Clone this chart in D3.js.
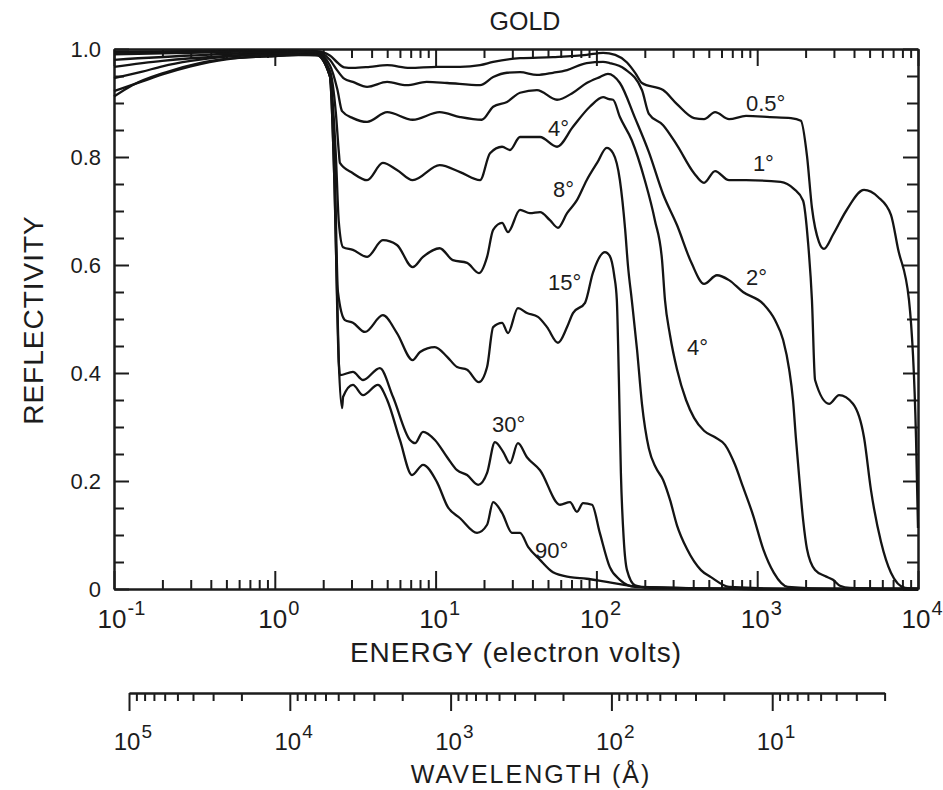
<!DOCTYPE html>
<html>
<head>
<meta charset="utf-8">
<script src="https://cdn.jsdelivr.net/npm/d3@7"></script>
<style>
  body { margin: 0; background: #fff; }
  text { font-family: "Liberation Sans", Arial, sans-serif; fill: #1c1c1c; }
  .axis path, .axis line { stroke: #1c1c1c; stroke-width: 2; }
  .curve { fill: none; stroke: #141414; stroke-width: 2.3; stroke-linejoin: round; }
</style>
</head>
<body>
<div id="main"></div>
<script>
// reflectivity of gold vs photon energy, one array per grazing angle
// each point is [energy (eV), reflectivity]
var angles = ["0.5°", "1°", "2°", "4°", "8°", "15°", "30°", "90°"];

var r05 = [[0.1, 0.995], [0.3, 0.996], [1, 0.997], [1.8, 0.996], [2.2, 0.988], [2.45, 0.975], [2.7, 0.966],
  [3.06, 0.965], [3.9, 0.967], [5.0, 0.970], [6.9, 0.965], [10.2, 0.967], [14.2, 0.967], [18.9, 0.970],
  [22.8, 0.976], [33.5, 0.983], [53.7, 0.985], [87, 0.989], [110, 0.993], [131, 0.989], [155, 0.975],
  [175, 0.955], [192, 0.937], [260, 0.924], [317, 0.898], [405, 0.872], [467, 0.870], [547, 0.883],
  [668, 0.870], [852, 0.876], [1200, 0.874], [1620, 0.872], [1870, 0.867], [2040, 0.802], [2190, 0.706],
  [2420, 0.643], [2600, 0.630], [2960, 0.656], [3570, 0.700], [4620, 0.739], [5640, 0.726], [6790, 0.693],
  [7510, 0.630], [8790, 0.535], [9720, 0.280], [10000, 0.113]];

var r1 = [[0.1, 0.993], [0.3, 0.995], [1, 0.997], [1.8, 0.995], [2.2, 0.98], [2.45, 0.96], [2.7, 0.945],
  [3.06, 0.939], [3.75, 0.930], [5.0, 0.939], [6.6, 0.933], [8.8, 0.939], [11.8, 0.937], [18.9, 0.933],
  [22.8, 0.948], [27.8, 0.956], [33.5, 0.957], [42.7, 0.952], [53.7, 0.956], [65.7, 0.961], [87, 0.974],
  [110, 0.976], [121, 0.974], [150, 0.963], [192, 0.924], [212, 0.880], [260, 0.859], [317, 0.822],
  [405, 0.770], [467, 0.752], [547, 0.774], [668, 0.757], [852, 0.757], [1400, 0.754], [1690, 0.741],
  [1930, 0.719], [2070, 0.643], [2190, 0.535], [2290, 0.387], [2800, 0.343], [3230, 0.359], [3940, 0.343],
  [4620, 0.280], [5100, 0.183], [5890, 0.087], [6790, 0.030], [8300, 0.002], [10000, 0]];

var r2 = [[0.1, 0.99], [0.3, 0.993], [1, 0.996], [1.8, 0.994], [2.2, 0.97], [2.45, 0.925], [2.62, 0.885],
  [3.06, 0.872], [3.75, 0.865], [5.0, 0.883], [7.2, 0.869], [10.6, 0.883], [14.2, 0.874], [19.4, 0.869],
  [22.8, 0.893], [27.8, 0.902], [33.5, 0.919], [42.7, 0.924], [56.9, 0.906], [71.5, 0.919], [87, 0.937],
  [105, 0.948], [118, 0.954], [140, 0.937], [174, 0.872], [212, 0.809], [260, 0.731], [317, 0.674],
  [390, 0.604], [467, 0.565], [562, 0.581], [668, 0.572], [816, 0.550], [1090, 0.528], [1290, 0.498],
  [1450, 0.461], [1580, 0.407], [1670, 0.350], [1740, 0.280], [1820, 0.211], [1930, 0.128], [2040, 0.074],
  [2290, 0.035], [2640, 0.024], [2960, 0.017], [3270, 0.006], [3780, 0.002], [10000, 0]];

var r4 = [[0.1, 0.98], [0.3, 0.988], [1, 0.993], [1.8, 0.992], [2.2, 0.96], [2.4, 0.88], [2.5, 0.81],
  [2.54, 0.789], [3.06, 0.770], [3.75, 0.757], [4.7, 0.789], [5.75, 0.776], [7.2, 0.757], [10.6, 0.785],
  [14.2, 0.772], [18.9, 0.757], [21.8, 0.807], [25.9, 0.819], [29.0, 0.813], [33.5, 0.837], [44.6, 0.837],
  [56.9, 0.819], [71.5, 0.856], [91, 0.893], [110, 0.911], [120, 0.907], [127, 0.906], [140, 0.874],
  [166, 0.831], [200, 0.757], [231, 0.683], [256, 0.609], [267, 0.535], [287, 0.470], [317, 0.407],
  [361, 0.350], [405, 0.317], [467, 0.293], [547, 0.281], [631, 0.267], [728, 0.230], [816, 0.189],
  [942, 0.137], [1090, 0.074], [1270, 0.030], [1550, 0.004], [3000, 0], [10000, 0]];

var r8 = [[0.1, 0.967], [0.2, 0.978], [0.5, 0.987], [1, 0.991], [1.8, 0.99], [2.2, 0.95], [2.4, 0.8], [2.5, 0.68],
  [2.66, 0.633], [3.06, 0.628], [3.75, 0.615], [4.7, 0.646], [5.75, 0.637], [7.2, 0.596], [8.35, 0.615],
  [10.6, 0.631], [12.8, 0.609], [15.7, 0.604], [18.6, 0.585], [20.9, 0.615], [22.8, 0.665], [25.9, 0.678],
  [28.2, 0.661], [33.5, 0.702], [38.6, 0.696], [44.6, 0.698], [51.4, 0.683], [57.7, 0.669], [65.7, 0.696],
  [75.7, 0.720], [87, 0.757], [101, 0.789], [116, 0.817], [127, 0.807], [140, 0.757], [151, 0.665],
  [157, 0.600], [166, 0.535], [179, 0.443], [192, 0.343], [212, 0.260], [235, 0.224], [260, 0.202],
  [287, 0.165], [317, 0.118], [366, 0.074], [447, 0.035], [516, 0.022], [668, 0.004], [2000, 0], [10000, 0]];

var r15 = [[0.1, 0.946], [0.15, 0.958], [0.2, 0.968], [0.3, 0.978], [0.5, 0.986], [1, 0.99], [1.8, 0.99],
  [2.2, 0.95], [2.35, 0.8], [2.47, 0.55], [2.73, 0.498], [3.06, 0.493], [3.64, 0.476], [4.7, 0.507],
  [5.75, 0.474], [7.2, 0.424], [8.0, 0.439], [9.9, 0.448], [11.8, 0.430], [13.6, 0.411], [15.7, 0.406],
  [18.6, 0.383], [20.9, 0.411], [22.8, 0.485], [25.9, 0.493], [28.2, 0.474], [32.5, 0.520], [37.0, 0.511],
  [43.3, 0.504], [49.3, 0.485], [57.7, 0.456], [65.7, 0.485], [71.5, 0.511], [85, 0.530], [95, 0.585],
  [113, 0.624], [121, 0.617], [129, 0.581], [134, 0.535], [138, 0.387], [142, 0.215], [148, 0.091],
  [155, 0.035], [174, 0.007], [215, 0.002], [1000, 0], [10000, 0]];

var r30 = [[0.1, 0.922], [0.15, 0.94], [0.2, 0.953], [0.3, 0.968], [0.5, 0.981], [1, 0.987], [1.8, 0.989],
  [2.2, 0.95], [2.35, 0.75], [2.5, 0.42], [2.54, 0.396], [3.06, 0.402], [3.54, 0.387], [4.5, 0.409],
  [5.43, 0.356], [6.93, 0.276], [7.45, 0.270], [8.35, 0.291], [9.9, 0.276], [11.8, 0.244], [13.6, 0.220],
  [15.7, 0.211], [18.4, 0.193], [20.9, 0.215], [23.4, 0.272], [26.3, 0.254], [29.0, 0.233], [32.5, 0.270],
  [37.0, 0.244], [44.6, 0.220], [59.4, 0.156], [68.5, 0.161], [75.7, 0.143], [82.6, 0.159], [93.9, 0.156],
  [105, 0.104], [121, 0.041], [140, 0.017], [174, 0.004], [1000, 0], [10000, 0]];

var r90 = [[0.1, 0.912], [0.13, 0.933], [0.21, 0.957], [0.34, 0.974], [0.55, 0.983], [1, 0.987], [1.4, 0.989],
  [1.9, 0.988], [2.2, 0.95], [2.35, 0.75], [2.5, 0.42], [2.62, 0.335], [2.66, 0.356], [3.06, 0.378],
  [3.54, 0.359], [4.38, 0.378], [5.0, 0.350], [6.0, 0.276], [7.13, 0.211], [8.35, 0.230], [10.2, 0.198],
  [11.9, 0.152], [14.2, 0.131], [18.1, 0.104], [20.9, 0.119], [22.8, 0.161], [25.9, 0.141], [29.9, 0.104],
  [33.5, 0.104], [37.6, 0.078], [44.6, 0.054], [53.7, 0.031], [68.5, 0.022], [87, 0.019], [116, 0.013],
  [187, 0.004], [1000, 0], [10000, 0]];

var curves = [r05, r1, r2, r4, r8, r15, r30, r90];

// where each angle is written, [energy, reflectivity] of the text's left baseline
var curveLabels = [
  {text: "0.5°", e: 852, r: 0.885},
  {text: "1°", e: 940, r: 0.774},
  {text: "2°", e: 852, r: 0.563},
  {text: "4°", e: 50, r: 0.839},
  {text: "8°", e: 53.7, r: 0.726},
  {text: "15°", e: 50, r: 0.554},
  {text: "4°", e: 366, r: 0.433},
  {text: "30°", e: 22.4, r: 0.291},
  {text: "90°", e: 41.5, r: 0.057}
];

var energyDecades = [0.1, 1, 10, 100, 1000, 10000];
var energyExps = ["-1", "0", "1", "2", "3", "4"];
var reflValues = [0, 0.2, 0.4, 0.6, 0.8, 1.0];
var reflLabels = ["0", "0.2", "0.4", "0.6", "0.8", "1.0"];
var waveDecades = [1e5, 1e4, 1e3, 1e2, 1e1];
var waveExps = ["5", "4", "3", "2", "1"];

var hc = 12398.4; // eV * angstrom

var svg = d3.select("#main")
  .append("svg")
    .attr("width", 943)
    .attr("height", 790);

svg.append("rect")
  .attr("width", 943)
  .attr("height", 790)
  .attr("fill", "#fff");

var x = d3.scaleLog()
  .domain([0.1, 1e4])
  .range([114, 918]);

var y = d3.scaleLinear()
  .domain([0, 1])
  .range([589, 49]);

// wavelength scale lines up with the energy scale through lambda = hc / E
var w = d3.scaleLog()
  .domain([1e5, 2])
  .range([x(hc / 1e5), x(hc / 2)]);

function isDecade(v) {
  var l = Math.log10(v);
  return Math.abs(l - Math.round(l)) < 1e-6;
}

var eMajor = x.ticks().filter(isDecade);
var eMinor = x.ticks().filter(function(d) { return !isDecade(d); });
var rAll = d3.range(0, 1.0001, 0.05);
var rMajor = rAll.filter(function(d) { return Math.abs(d / 0.2 - Math.round(d / 0.2)) < 1e-6; });
var rMinor = rAll.filter(function(d) { return rMajor.indexOf(d) < 0; });

function addTicks(axis, values, size, transform) {
  svg.append("g")
    .attr("class", "axis")
    .attr("transform", transform)
    .call(axis.tickValues(values).tickSize(size).tickSizeOuter(0).tickFormat(""));
}

// frame with inward ticks on every side
addTicks(d3.axisBottom(x), eMinor, -9, "translate(0," + y(0) + ")");
addTicks(d3.axisBottom(x), eMajor, -18, "translate(0," + y(0) + ")");
addTicks(d3.axisTop(x), eMinor, -9, "translate(0," + y(1) + ")");
addTicks(d3.axisTop(x), eMajor, -17, "translate(0," + y(1) + ")");
addTicks(d3.axisLeft(y), rMinor, -10, "translate(" + x(0.1) + ",0)");
addTicks(d3.axisLeft(y), rMajor, -15, "translate(" + x(0.1) + ",0)");
addTicks(d3.axisRight(y), rMinor, -11, "translate(" + x(1e4) + ",0)");
addTicks(d3.axisRight(y), rMajor, -15, "translate(" + x(1e4) + ",0)");

// wavelength axis below, ticks pointing down
var wTicks = w.ticks();
addTicks(d3.axisBottom(w), wTicks.filter(function(d) { return !isDecade(d); }), 8, "translate(0,693)");
addTicks(d3.axisBottom(w), wTicks.filter(isDecade), 18, "translate(0,693)");

svg.selectAll(".axis .domain").attr("stroke-width", 2);

// reflectivity tick labels
svg.selectAll(".ylab")
  .data(reflValues)
  .enter()
  .append("text")
    .attr("class", "ylab")
    .attr("x", 101)
    .attr("y", function(d) { return y(d); })
    .attr("dy", "0.36em")
    .attr("text-anchor", "end")
    .style("font-size", "22px")
    .text(function(d, i) { return reflLabels[i]; });

// power-of-ten labels: "10" centred on the tick, exponent raised after it
function powerLabels(scale, values, exps, base, size, supSize) {
  var g = svg.append("g");
  var lab = g.selectAll("g")
    .data(values)
    .enter()
    .append("g")
      .attr("transform", function(d) { return "translate(" + scale(d) + "," + base + ")"; });
  lab.append("text")
    .attr("x", -2)
    .attr("text-anchor", "middle")
    .style("font-size", size + "px")
    .text("10");
  lab.append("text")
    .attr("x", size * 0.52)
    .attr("y", -size * 0.5)
    .style("font-size", supSize + "px")
    .text(function(d, i) { return exps[i]; });
}

powerLabels(x, energyDecades, energyExps, 628, 26, 20);
powerLabels(w, waveDecades, waveExps, 750, 24, 19);

// the curves
var line = d3.line()
  .x(function(d) { return x(d[0]); })
  .y(function(d) { return y(d[1]); })
  .curve(d3.curveMonotoneX);

svg.append("g")
  .selectAll("path")
  .data(curves)
  .enter()
  .append("path")
    .attr("class", "curve")
    .attr("d", line);

svg.append("g")
  .selectAll("text")
  .data(curveLabels)
  .enter()
  .append("text")
    .attr("x", function(d) { return x(d.e); })
    .attr("y", function(d) { return y(d.r); })
    .style("font-size", "22px")
    .text(function(d) { return d.text; });

// titles
svg.append("text")
  .attr("x", 525)
  .attr("y", 30)
  .attr("text-anchor", "middle")
  .style("font-size", "25px")
  .text("GOLD");

svg.append("text")
  .attr("transform", "translate(43,320) rotate(-90)")
  .attr("text-anchor", "middle")
  .style("font-size", "28px")
  .style("letter-spacing", "1px")
  .text("REFLECTIVITY");

svg.append("text")
  .attr("x", 516)
  .attr("y", 662)
  .attr("text-anchor", "middle")
  .style("font-size", "28px")
  .style("letter-spacing", "1px")
  .text("ENERGY (electron volts)");

svg.append("text")
  .attr("x", 531)
  .attr("y", 783)
  .attr("text-anchor", "middle")
  .style("font-size", "25px")
  .style("letter-spacing", "2px")
  .text("WAVELENGTH (Å)");
</script>
</body>
</html>
